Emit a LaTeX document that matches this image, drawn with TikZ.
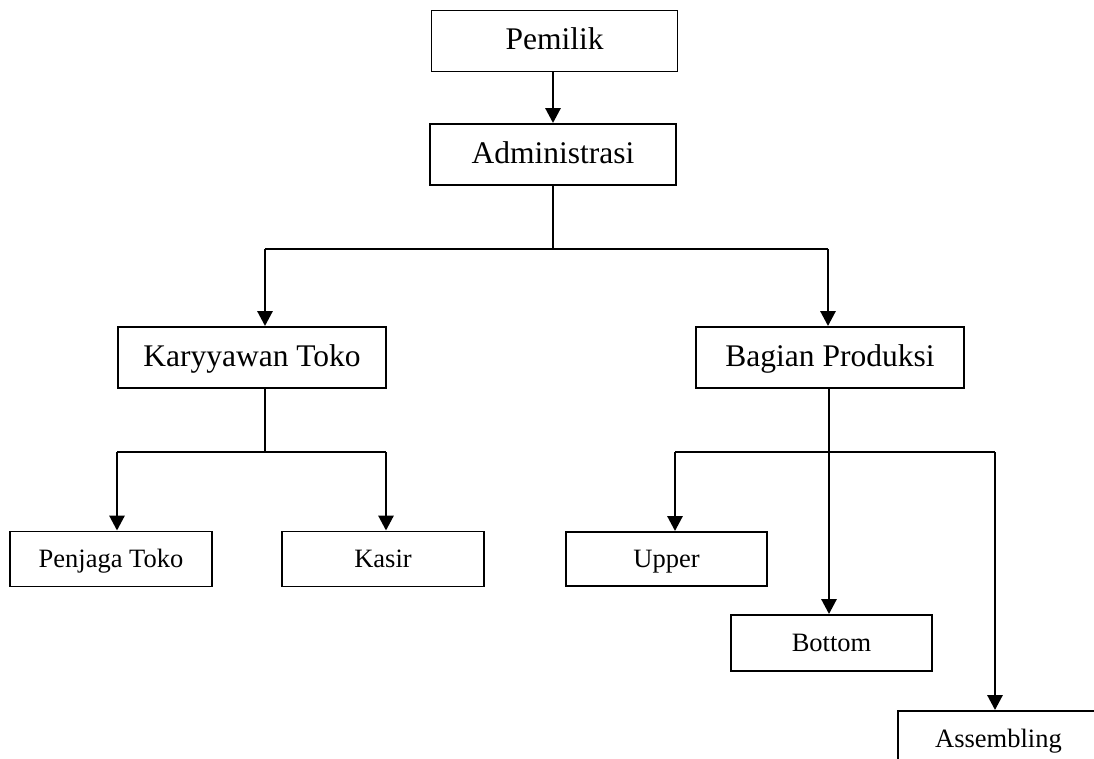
\documentclass[tikz,border=0pt]{standalone}
\usepackage{fontspec}
\setmainfont{Liberation Serif}
\usetikzlibrary{arrows.meta}
\begin{document}
\begin{tikzpicture}[x=1pt,y=-1pt,
  box/.style={draw,line width=1.9pt,inner sep=0pt,font=\fontsize{31.5}{36}\selectfont,
    text height=22pt,text depth=4pt},
  smallbox/.style={box,font=\fontsize{26.5}{30}\selectfont,text height=20pt,text depth=3pt},
  link/.style={line width=1.9pt},
  feed/.style={line width=2.9pt,-{Triangle[width=15pt,length=15pt]}}]
\clip (0,0) rectangle (1094,759);
\fill[white] (0,0) rectangle (1094,759);

% top levels
\node[box,minimum width=246pt,minimum height=61pt] (owner) at (554.5,41) {Pemilik};
\node[box,minimum width=246pt,minimum height=61pt] (admin) at (553,154.5) {Administrasi};
\node[box,minimum width=268pt,minimum height=61pt] (shop) at (252,357.5) {Karyyawan Toko};
\node[box,minimum width=268pt,minimum height=61pt] (prod) at (830,357.5) {Bagian Produksi};

% shop staff
\node[smallbox,minimum width=202pt,minimum height=55pt] (guard) at (111,559) {Penjaga Toko};
\node[smallbox,minimum width=202pt,minimum height=55pt] (cash) at (383,559) {Kasir};

% production units
\node[smallbox,minimum width=201pt,minimum height=54pt] (upper) at (666.5,559) {Upper};
\node[smallbox,minimum width=201pt,minimum height=56pt] (bottom) at (831.5,643) {Bottom};
\node[smallbox,minimum width=201pt,minimum height=56pt] (assy) at (998.5,739) {Assembling};

% branch points
\coordinate (a0) at (553,249);
\coordinate (aL) at (265,249);
\coordinate (aR) at (828,249);
\coordinate (s0) at (265,452);
\coordinate (sL) at (117,452);
\coordinate (sR) at (386,452);
\coordinate (pL) at (675,452);
\coordinate (pR) at (995,452);

\draw[feed] (owner.south -| admin.north) -- (admin.north);
\draw[link] (admin.south) -- (a0);
\draw[link] (aL) -- (aR);
\draw[feed] (aL) -- (aL |- shop.north);
\draw[feed] (aR) -- (aR |- prod.north);

\draw[link] (shop.south -| s0) -- (s0);
\draw[link] (sL) -- (sR);
\draw[feed] (sL) -- (sL |- guard.north);
\draw[feed] (sR) -- (sR |- cash.north);

\draw[link] (pL) -- (pR);
\draw[feed] (prod.south -| 829,0) -- (829,0 |- bottom.north);
\draw[feed] (pL) -- (pL |- upper.north);
\draw[feed] (pR) -- (pR |- assy.north);
\end{tikzpicture}
\end{document}
